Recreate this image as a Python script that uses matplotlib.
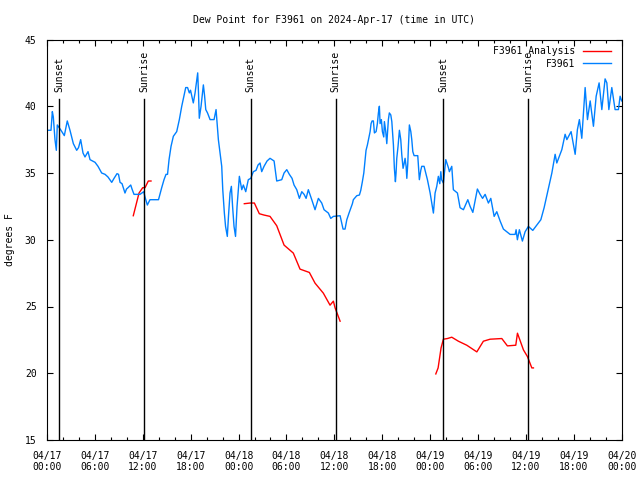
import numpy as np
import pandas as pd
import matplotlib
matplotlib.use("Agg")
import matplotlib.pyplot as plt
import matplotlib.dates as mdates

# hours after 2024-04-17 00:00 UTC, dew point in degrees F
obs_hours = [0.0, 0.5, 0.67, 0.79, 1.0, 1.17, 1.29, 1.75, 2.17, 2.54, 2.88, 3.3, 3.72, 3.95,
             4.22, 4.51, 4.76, 5.14, 5.39, 6.02, 6.39, 6.85, 7.27, 7.64, 8.11, 8.4, 8.77,
             8.96, 9.15, 9.4, 9.77, 9.96, 10.15, 10.49, 10.65, 10.9, 11.65, 12.12, 12.28,
             12.57, 12.9, 13.97, 14.37, 14.66, 14.91, 15.1, 15.29, 15.54, 15.83, 16.25,
             16.58, 16.88, 17.17, 17.38, 17.61, 17.83, 17.98, 18.33, 18.55, 18.88, 18.98,
             19.08, 19.3, 19.59, 19.74, 19.89, 20.11, 20.43, 20.93, 21.18, 21.47, 21.68,
             21.89, 22.02, 22.22, 22.37, 22.59, 22.74, 22.93, 23.1, 23.25, 23.43, 23.62,
             23.81, 24.1, 24.4, 24.6, 24.9, 25.22, 25.53, 25.85, 26.19, 26.44, 26.69, 26.9,
             27.19, 27.57, 27.94, 28.45, 28.78, 29.41, 29.7, 30.04, 30.36, 30.7, 30.95,
             31.29, 31.62, 31.92, 32.21, 32.46, 32.74, 33.17, 33.58, 34.0, 34.42, 34.71,
             35.25, 35.55, 35.88, 36.72, 37.09, 37.34, 37.56, 37.84, 38.26, 38.38, 38.81,
             39.14, 39.31, 39.51, 39.69, 39.85, 39.97, 40.14, 40.31, 40.48, 40.6, 40.73,
             40.89, 41.02, 41.23, 41.39, 41.52, 41.64, 41.73, 41.89, 42.02, 42.19, 42.27,
             42.44, 42.57, 42.77, 42.89, 43.07, 43.2, 43.4, 43.52, 43.65, 43.73, 43.82,
             43.98, 44.15, 44.32, 44.45, 44.61, 44.74, 44.86, 44.99, 45.08, 45.2, 45.28,
             45.4, 45.58, 45.7, 45.83, 45.99, 46.45, 46.58, 46.65, 46.83, 46.95, 47.24,
             47.66, 48.0, 48.41, 48.62, 48.83, 49.03, 49.21, 49.34, 49.44, 49.66, 49.96,
             50.29, 50.41, 50.71, 50.91, 51.42, 51.75, 52.17, 52.72, 53.01, 53.35, 53.92,
             54.26, 54.57, 54.89, 55.3, 55.6, 56.02, 56.35, 56.77, 57.18, 58.02, 58.65,
             58.77, 58.93, 59.18, 59.56, 59.9, 60.31, 60.86, 61.37, 61.87, 62.28, 62.69,
             63.25, 63.66, 63.87, 64.5, 64.91, 65.13, 65.66, 66.17, 66.45, 66.7, 67.0,
             67.42, 67.71, 68.05, 68.46, 68.8, 69.17, 69.51, 69.92, 70.14, 70.39, 70.76,
             71.17, 71.59, 71.8, 72.0]
obs_dewpt = [38.2, 38.2, 39.6, 39.2, 37.5, 36.7, 38.6, 38.2, 37.8, 38.9, 38.2, 37.2, 36.7, 36.9,
             37.5, 36.5, 36.2, 36.6, 36.0, 35.8, 35.5, 35.0, 34.9, 34.7, 34.3, 34.6, 34.95,
             34.9, 34.3, 34.2, 33.5, 33.8, 33.9, 34.1, 33.8, 33.4, 33.4, 33.6, 33.2,
             32.6, 33.0, 33.0, 33.9, 34.5, 34.9, 34.9, 36.0, 37.0, 37.75, 38.1,
             39.0, 40.0, 40.8, 41.4, 41.4, 41.0, 41.2, 40.25, 41.0, 42.5, 41.0,
             39.1, 40.0, 41.6, 40.8, 39.75, 39.5, 39.0, 39.0, 39.75, 37.5, 36.5,
             35.5, 33.75, 32.0, 31.0, 30.25, 31.8, 33.5, 34.0, 32.5, 31.0, 30.25,
             32.5, 34.75, 33.75, 34.1, 33.6, 34.5, 34.6, 35.1, 35.2, 35.6, 35.75, 35.1,
             35.5, 35.9, 36.1, 35.9, 34.4, 34.5, 35.0, 35.25, 34.9, 34.6, 34.1,
             33.75, 33.1, 33.6, 33.4, 33.1, 33.75, 33.0, 32.25, 33.1, 32.75, 32.25,
             32.0, 31.6, 31.75, 31.8, 30.8, 30.8, 31.5, 32.0, 32.7, 33.0, 33.3,
             33.35, 33.7, 34.35, 35.0, 36.0, 36.7, 37.1, 37.6, 38.1, 38.7, 38.9,
             38.9, 38.0, 38.1, 38.7, 39.5, 40.0, 38.7, 39.0, 38.1, 37.7, 38.85,
             38.1, 37.2, 39.0, 39.5, 39.35, 38.85, 37.1, 35.35, 34.35, 35.0, 36.1,
             37.0, 38.2, 37.5, 36.35, 35.35, 35.7, 36.1, 35.5, 34.6, 35.7, 37.0,
             38.6, 38.1, 37.5, 36.6, 36.3, 36.3, 35.2, 34.5, 35.2, 35.5, 35.5,
             34.5, 33.5, 32.0, 33.5, 34.0, 34.75, 34.2, 35.1, 34.5, 34.25, 36.0,
             35.4, 35.1, 35.5, 33.75, 33.5, 32.4, 32.25, 33.0, 32.5, 32.05, 33.8,
             33.4, 33.1, 33.4, 32.75, 33.1, 31.75, 32.1, 31.4, 30.8, 30.4, 30.4,
             30.75, 30.0, 30.75, 29.9, 30.6, 31.0, 30.7, 31.1, 31.5, 32.4, 33.5,
             35.0, 36.4, 35.75, 36.75, 37.9, 37.5, 38.1, 36.4, 38.25, 39.0, 37.6,
             41.4, 39.0, 40.4, 38.5, 40.75, 41.75, 39.75, 42.05, 41.75, 39.75, 41.4,
             39.75, 39.75, 40.75, 40.4]

# analysis runs (NaN splits the three runs)
ana_hours = [10.81, 11.15, 11.53, 11.99, 12.28, 12.69, 13.03, np.nan,
             24.72, 25.44, 25.98, 26.6, 27.19, 27.94, 28.78, 29.7, 30.86, 31.7, 32.87,
             33.58, 34.62, 35.46, 35.88, 36.09, 36.72, np.nan,
             48.71, 49.0, 49.37, 49.66, 50.16, 50.71, 51.54, 52.59, 53.85, 54.67, 55.51,
             56.98, 57.68, 58.73, 58.94, 59.69, 60.19, 60.74, 60.94]
ana_dewpt = [31.8, 32.6, 33.5, 33.9, 33.9, 34.4, 34.4, np.nan,
             32.7, 32.75, 32.75, 31.95, 31.85, 31.75, 31.05, 29.6, 29.0, 27.8, 27.55,
             26.75, 26.0, 25.1, 25.4, 24.9, 23.9, np.nan,
             19.95, 20.4, 21.9, 22.55, 22.6, 22.7, 22.4, 22.1, 21.6, 22.4, 22.55,
             22.6, 22.05, 22.1, 23.0, 21.75, 21.25, 20.4, 20.4]

sun_hours = [1.55, 12.2, 25.5, 36.17, 49.6, 60.26]
sun_labels = ["Sunset", "Sunrise", "Sunset", "Sunrise", "Sunset", "Sunrise"]

start = pd.Timestamp("2024-04-17 00:00")
def to_time(h):
    return start + pd.to_timedelta(np.asarray(h, dtype=float), unit="h")

plt.rcParams['font.family'] = ['DejaVu Sans Mono']
plt.rcParams['font.size'] = 7

fig = plt.figure(figsize=(6.4, 4.8), dpi=100)
ax = fig.add_axes([47 / 640, 40 / 480, 574.7 / 640, 400.5 / 480])

ax.plot(to_time(ana_hours), ana_dewpt, color='#ff0000', lw=1.0, label='F3961 Analysis')
ax.plot(to_time(obs_hours), obs_dewpt, color='#0080ff', lw=1.0, label='F3961')

for h, lab in zip(sun_hours, sun_labels):
    t = to_time([h])[0]
    ax.plot([t, t], [15, 40.55], color='black', lw=1.0)
    ax.text(t, 41.05, lab, rotation=90, ha='center', va='bottom', fontsize=7)

ax.set_xlim(start, start + pd.Timedelta(hours=72))
ax.set_ylim(15, 45)
ax.set_yticks(range(15, 46, 5))
ax.xaxis.set_major_locator(mdates.HourLocator(byhour=[0, 6, 12, 18]))
ax.xaxis.set_minor_locator(mdates.HourLocator(interval=2))
ax.xaxis.set_major_formatter(mdates.DateFormatter('%m/%d\n%H:%M'))
for lab in ax.get_xticklabels():
    lab.set_linespacing(1.15)

ax.tick_params(which='both', direction='in', top=True, right=True, width=0.8)
ax.tick_params(axis='x', which='major', length=4, pad=8)
ax.tick_params(axis='x', which='minor', length=2.3)
ax.tick_params(axis='y', which='major', length=4, pad=7.5)
for s in ax.spines.values():
    s.set_linewidth(0.8)

fig.text(10 / 640, 240 / 480, 'degrees F', rotation=90, ha='center', va='center', fontsize=7)
fig.text(334 / 640, 460 / 480, 'Dew Point for F3961 on 2024-Apr-17 (time in UTC)',
         ha='center', va='center', fontsize=7)

ax.legend(loc='upper right', bbox_to_anchor=(0.982, 0.983), frameon=False, markerfirst=False,
          borderpad=0, borderaxespad=0, handlelength=2.9, handletextpad=0.8,
          labelspacing=0.25, fontsize=7)

fig.savefig('out.png', dpi=100)
